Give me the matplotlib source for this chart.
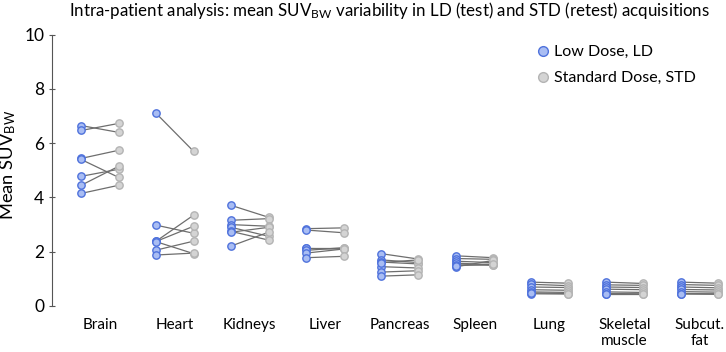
import matplotlib
matplotlib.use("Agg")
import matplotlib.pyplot as plt
import numpy as np
from matplotlib.lines import Line2D

plt.rcParams["font.family"] = ["Lato", "DejaVu Sans"]
plt.rcParams["mathtext.default"] = "regular"

organs = ["Brain", "Heart", "Kidneys", "Liver", "Pancreas", "Spleen", "Lung",
          "Skeletal\nmuscle", "Subcut.\nfat"]

# mean SUVbw per patient, LD (test) and STD (retest)
brain_ld = [6.65, 6.47, 5.44, 5.40, 4.78, 4.45, 4.15]
brain_std = [6.40, 6.73, 5.74, 4.74, 5.04, 5.15, 4.45]
heart_ld = [7.10, 2.98, 2.39, 2.38, 2.37, 2.06, 1.88]
heart_std = [5.70, 2.68, 3.35, 2.94, 1.93, 2.39, 1.95]
kidneys_ld = [3.71, 3.16, 3.00, 2.90, 2.75, 2.72, 2.21]
kidneys_std = [3.27, 3.22, 2.94, 2.57, 2.43, 2.90, 2.72]
liver_ld = [2.85, 2.80, 2.15, 2.12, 2.05, 1.95, 1.78]
liver_std = [2.88, 2.70, 2.15, 2.10, 2.15, 2.10, 1.83]
pancreas_ld = [1.93, 1.70, 1.62, 1.45, 1.25, 1.10, 1.60]
pancreas_std = [1.73, 1.60, 1.55, 1.40, 1.30, 1.15, 1.70]
spleen_ld = [1.85, 1.75, 1.65, 1.58, 1.52, 1.45, 1.48]
spleen_std = [1.78, 1.72, 1.60, 1.52, 1.50, 1.68, 1.55]
lung_ld = [0.88, 0.80, 0.70, 0.60, 0.52, 0.45, 0.48]
lung_std = [0.84, 0.75, 0.68, 0.58, 0.50, 0.44, 0.46]
muscle_ld = [0.88, 0.78, 0.70, 0.62, 0.52, 0.46, 0.44]
muscle_std = [0.83, 0.76, 0.68, 0.60, 0.50, 0.45, 0.44]
fat_ld = [0.88, 0.79, 0.70, 0.61, 0.53, 0.46, 0.44]
fat_std = [0.84, 0.76, 0.67, 0.59, 0.51, 0.45, 0.43]

ld_all = [brain_ld, heart_ld, kidneys_ld, liver_ld, pancreas_ld, spleen_ld,
          lung_ld, muscle_ld, fat_ld]
std_all = [brain_std, heart_std, kidneys_std, liver_std, pancreas_std, spleen_std,
           lung_std, muscle_std, fat_std]

LD_FACE, LD_EDGE = "#a9bdf3", "#4f72dc"
STD_FACE, STD_EDGE = "#d4d4d4", "#b4b4b4"
off = 0.25

fig = plt.figure(figsize=(7.26, 3.52), dpi=100)
ax = fig.add_axes([0.0716, 0.1307, 0.928, 0.7707])

for i, (ld, std) in enumerate(zip(ld_all, std_all)):
    for a, b in zip(ld, std):
        ax.plot([i - off, i + off], [a, b], color="#6e6e6e", lw=0.9, zorder=1)
    ax.plot([i - off] * len(ld), ld, "o", ms=5.3, mfc=LD_FACE, mec=LD_EDGE,
            mew=1.0, ls="none", zorder=3)
    ax.plot([i + off] * len(std), std, "o", ms=5.3, mfc=STD_FACE, mec=STD_EDGE,
            mew=1.0, ls="none", zorder=3)

ax.set_xlim(-0.64, 8.35)
ax.set_ylim(0, 10)
ax.set_yticks([0, 2, 4, 6, 8, 10])
ax.set_xticks(range(len(organs)))
ax.set_xticklabels(organs, fontsize=11, linespacing=1.1)
ax.tick_params(axis="x", length=0, pad=9)
ax.tick_params(axis="y", direction="inout", length=5, width=0.8, labelsize=12.5,
               pad=3, color="#555555")
for s in ["top", "right", "bottom"]:
    ax.spines[s].set_visible(False)
ax.spines["left"].set_color("#555555")
ax.spines["left"].set_linewidth(0.8)
ax.set_ylabel("Mean SUV$_{BW}$", fontsize=13.2)
ax.yaxis.set_label_coords(-0.05, 0.52)

fig.text(0.537, 0.969, "Intra-patient analysis: mean SUV$_{BW}$ variability in LD (test) and STD (retest) acquisitions",
         ha="center", va="center", fontsize=12.2)

handles = [
    Line2D([], [], marker="o", ls="none", ms=7, mfc=LD_FACE, mec=LD_EDGE, mew=1.0,
           label="Low Dose, LD"),
    Line2D([], [], marker="o", ls="none", ms=7, mfc=STD_FACE, mec=STD_EDGE, mew=1.0,
           label="Standard Dose, STD"),
]
ax.legend(handles=handles, loc="upper left", bbox_to_anchor=(0.693, 1.015), frameon=False,
          fontsize=11.5, handletextpad=0.1, labelspacing=0.75, handlelength=1.2)

fig.savefig("out.png", dpi=100)
